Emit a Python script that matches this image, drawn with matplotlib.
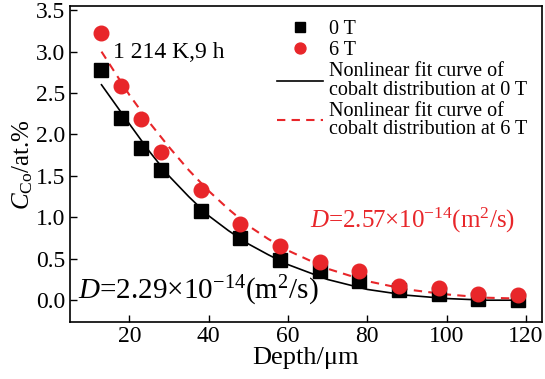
import matplotlib
matplotlib.use('Agg')
import matplotlib.pyplot as plt
import numpy as np

plt.rcParams['font.family'] = ['Liberation Serif', 'DejaVu Serif']
plt.rcParams['mathtext.fontset'] = 'custom'
plt.rcParams['mathtext.rm'] = 'Liberation Serif'
plt.rcParams['mathtext.it'] = 'Liberation Serif:italic'

# measured points
depth = [13, 18, 23, 28, 38, 48, 58, 68, 78, 88, 98, 108, 118]
c_0T = [2.78, 2.2, 1.84, 1.57, 1.08, 0.75, 0.49, 0.35, 0.23, 0.12, 0.08, 0.02, 0.0]
c_6T = [3.23, 2.58, 2.19, 1.79, 1.33, 0.92, 0.65, 0.46, 0.35, 0.17, 0.15, 0.08, 0.06]

# fit curves
fit_x = [13, 20, 25, 30, 35, 40, 45, 50, 55, 60, 70, 80, 90, 100, 110, 118]
fit_0T = [2.6, 2.13, 1.8, 1.5, 1.25, 1.02, 0.84, 0.68, 0.55, 0.43, 0.25, 0.13, 0.06, 0.02, 0.0, 0.0]
fit_6T = [3.0, 2.48, 2.15, 1.85, 1.57, 1.32, 1.1, 0.9, 0.74, 0.6, 0.38, 0.23, 0.13, 0.07, 0.03, 0.02]

red = '#e8262a'

fig = plt.figure(figsize=(5.45, 3.79), dpi=100)
ax = fig.add_axes([0.128, 0.150, 0.866, 0.834])

ax.plot(depth, c_0T, 's', color='k', ms=10, label='0 T', zorder=3)
ax.plot(depth, c_6T, 'o', color=red, ms=10.5, label='6 T', zorder=3)
ax.plot(fit_x, fit_0T, '-', color='k', lw=1.2,
        label='Nonlinear fit curve of\ncobalt distribution at 0 T')
ax.plot(fit_x, fit_6T, '--', color=red, lw=1.5, dashes=(4, 3),
        label='Nonlinear fit curve of\ncobalt distribution at 6 T')

ax.set_xlim(5, 124)
ax.set_ylim(-0.265, 3.55)
ax.set_xticks([20, 40, 60, 80, 100, 120])
ax.set_yticks(np.arange(0, 3.51, 0.5))
ax.yaxis.set_major_formatter(matplotlib.ticker.FormatStrFormatter('%.1f'))
ax.tick_params(direction='in', labelsize=17, length=5, width=1, pad=3)

ax.set_xlabel('Depth/\u03bcm', fontsize=19, labelpad=0)
ax.set_ylabel(r'$C_{\rm Co}$/at.%', fontsize=18, labelpad=1)

for s in ax.spines.values():
    s.set_linewidth(1.2)

ax.text(15.8, 2.99, '1 214 K,9 h', fontsize=17, va='center')
ax.text(7.0, 0.02, r'$D$=2.29×10$^{-14}$(m$^2$/s)', fontsize=21, va='baseline')
ax.text(65.5, 0.88, r'$D$=2.57×10$^{-14}$(m$^2$/s)', fontsize=18, color=red,
        va='baseline')

leg = ax.legend(loc='upper right', frameon=False, fontsize=14.5, handlelength=2.3,
                labelspacing=0.1, handletextpad=0.3, borderaxespad=0.5,
                borderpad=0.2, markerscale=0.75)
for t in leg.get_texts():
    t.set_linespacing(0.95)

fig.savefig('out.png', dpi=100)
